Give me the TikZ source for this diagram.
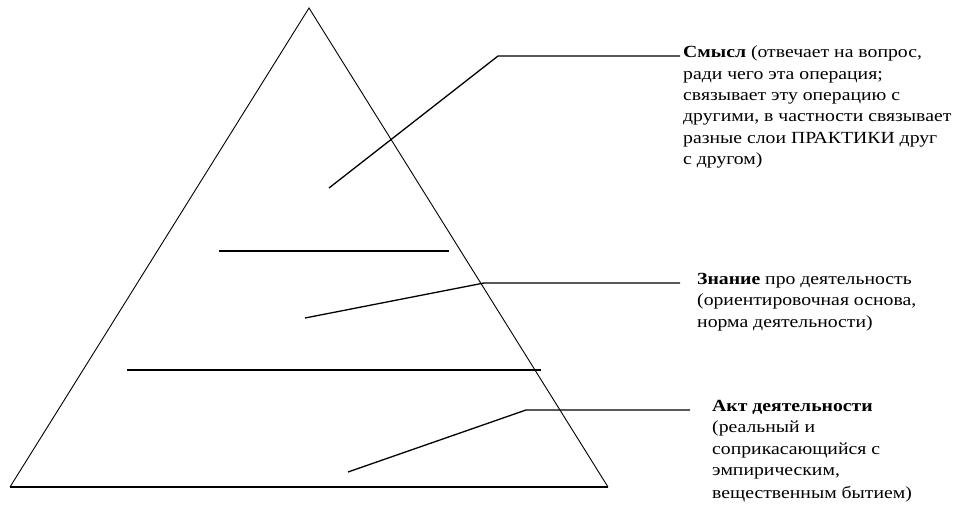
\documentclass[tikz,border=0pt]{standalone}
\usepackage{fontspec}
\setmainfont{Liberation Serif}[FakeStretch=1.16]
\usetikzlibrary{positioning}

\tikzset{
  leader/.style={line width=1.3pt},
  layer/.style={line width=1.4pt},
  note/.style={anchor=north west,inner sep=0pt,align=left,
    font=\fontsize{17}{21.3}\selectfont}
}

\begin{document}
\begin{tikzpicture}[x=1pt,y=-1pt]
\useasboundingbox (0,0) rectangle (960,508);
% pyramid
\coordinate (top) at (309,8);
\coordinate (bl) at (10,487);
\coordinate (br) at (608,487);
\draw [line width=0.9pt] (bl)--(top)--(br);
\draw [line width=1.4pt] (bl)--(br);
% layers
\coordinate (l1a) at (219,251); \coordinate (l1b) at (449,251);
\coordinate (l2a) at (127,370); \coordinate (l2b) at (541,370);
\draw [layer] (l1a)--(l1b);
\draw [layer] (l2a)--(l2b);
% notes
\node [note] (sense) at (683,46) {\textbf{Смысл} (отвечает на вопрос,\\ради чего эта операция;\\связывает эту операцию с\\другими, в частности связывает\\разные слои ПРАКТИКИ друг\\с другом)};
\node [note] (know) at (697,273) {\textbf{Знание} про деятельность\\(ориентировочная основа,\\норма деятельности)};
\node [note] (act) at (712,400) {\textbf{Акт деятельности}\\(реальный и\\соприкасающийся с\\эмпирическим,\\[2pt]вещественным бытием)};
% leaders
\coordinate (s0) at (329,188); \coordinate (s1) at (498,56); \coordinate (s2) at (680,56);
\coordinate (k0) at (305,318); \coordinate (k1) at (484,283); \coordinate (k2) at (680,283);
\coordinate (a0) at (348,472); \coordinate (a1) at (526,410); \coordinate (a2) at (690,410);
\draw [leader] (s0)--(s1)--(s2);
\draw [leader] (k0)--(k1)--(k2);
\draw [leader] (a0)--(a1)--(a2);
\end{tikzpicture}
\end{document}
